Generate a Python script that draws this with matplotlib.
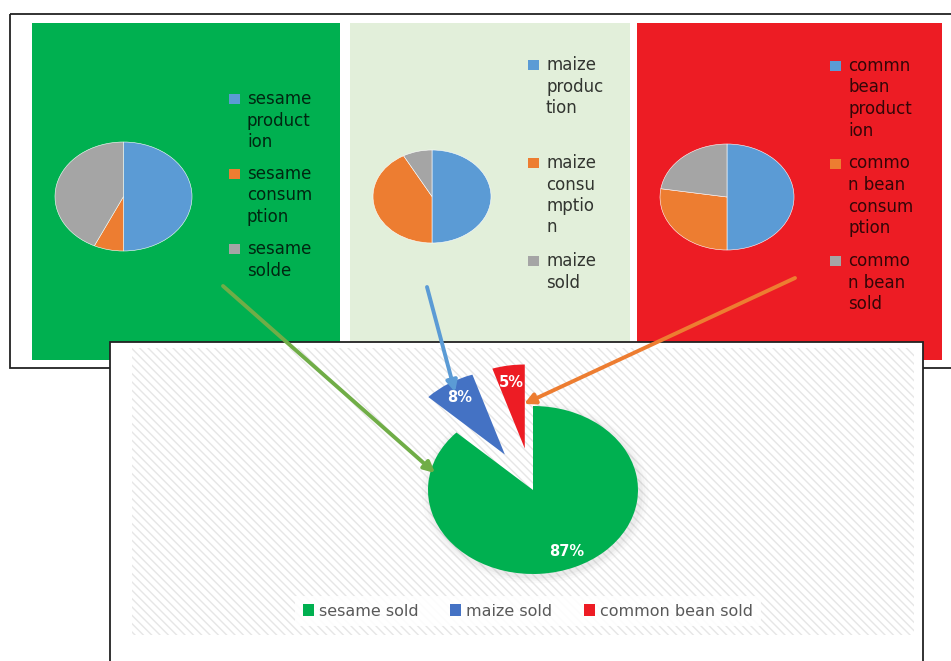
import numpy as np
import matplotlib

matplotlib.use("Agg")
from matplotlib import pyplot as plt
from matplotlib.patches import Rectangle, Wedge

# shares (%)
sesame_labels = ["sesame\nproduct\nion", "sesame\nconsum\nption", "sesame\nsolde"]
sesame_values = [50, 7, 43]
maize_labels = ["maize\nproduc\ntion", "maize\nconsu\nmptio\nn", "maize\nsold"]
maize_values = [50, 42, 8]
bean_labels = ["commn\nbean\nproduct\nion", "commo\nn bean\nconsum\nption", "commo\nn bean\nsold"]
bean_values = [50, 27.5, 22.5]
sold_labels = ["sesame sold", "maize sold", "common bean sold"]
sold_values = [87, 8, 5]

small_colors = ["#5b9bd5", "#ed7d31", "#a5a5a5"]
sold_colors = ["#00b050", "#4472c4", "#ed1c24"]

W, H = 951, 661
fig = plt.figure(figsize=(W / 100, H / 100), dpi=100)

# background axes in pixel coordinates (y down)
bg = fig.add_axes([0, 0, 1, 1])
bg.set_xlim(0, W)
bg.set_ylim(H, 0)
bg.axis("off")

# upper frame and the three coloured panels
bg.add_patch(Rectangle((10, 14), 960, 354, fill=False, edgecolor="#222222", lw=1.3, zorder=1))
bg.add_patch(Rectangle((32, 23), 308, 337, facecolor="#00b050", lw=0, zorder=2))
bg.add_patch(Rectangle((350, 23), 280, 337, facecolor="#e2efda", lw=0, zorder=2))
bg.add_patch(Rectangle((637, 23), 305, 337, facecolor="#ed1c24", lw=0, zorder=2))

# lower chart box with striped plot area
bg.add_patch(Rectangle((110, 342), 813, 340, facecolor="white", edgecolor="#222222", lw=1.3, zorder=3))
bg.add_patch(Rectangle((132, 348), 782, 287, facecolor="white", edgecolor="#e6e6e6",
                       hatch="\\\\\\\\", lw=0, zorder=4))


def panel_legend(labels, mx, y0, step):
    for i, lab in enumerate(labels):
        y = y0 + i * step
        bg.add_patch(Rectangle((mx, y - 5), 11, 10, facecolor=small_colors[i], lw=0, zorder=5))
        for j, line in enumerate(lab.split("\n")):
            bg.text(mx + 18, y + j * 21.5, line, fontsize=12, color="black", alpha=0.78,
                    va="center", ha="left", zorder=5)


panel_legend(sesame_labels, 229, 99, 75)
panel_legend(maize_labels, 528, 65, 98)
panel_legend(bean_labels, 830, 66, 97.5)


def pie_axes(cx, cy, rx, ry, lim=1.0):
    w, h = 2 * lim * rx, 2 * lim * ry
    ax = fig.add_axes([(cx - w / 2) / W, 1 - (cy + h / 2) / H, w / W, h / H])
    return ax


def small_pie(values, cx, cy, rx, ry):
    ax = pie_axes(cx, cy, rx, ry)
    ax.pie(values, colors=small_colors, startangle=90, counterclock=False,
           wedgeprops=dict(linewidth=0.4, edgecolor="white"))
    ax.set_xlim(-1, 1)
    ax.set_ylim(-1, 1)
    ax.set_aspect("auto")


small_pie(sesame_values, 123.5, 196.5, 68.5, 54.5)
small_pie(maize_values, 432, 196.5, 59, 46.5)
small_pie(bean_values, 727, 197, 67, 53)

# big exploded pie of the sold shares
lim = 1.7
bax = pie_axes(533, 490, 105, 84, lim)
theta1 = 90 - sold_values[0] / sum(sold_values) * 360
for r, a in [(1.08, 0.04), (1.05, 0.05), (1.025, 0.07)]:
    bax.add_patch(Wedge((0.02, -0.03), r, theta1, 90, facecolor="#888888", alpha=a, lw=0))
wedges, texts, autotexts = bax.pie(sold_values, colors=sold_colors, startangle=90, counterclock=False,
                                   explode=[0, 0.5, 0.5], autopct="%1.0f%%", pctdistance=0.8,
                                   wedgeprops=dict(linewidth=0),
                                   textprops=dict(color="white", fontsize=10.5, fontweight="bold"))
bax.set_xlim(-lim, lim)
bax.set_ylim(-lim, lim)
bax.set_aspect("auto")

fig.legend(wedges, sold_labels, loc="center", bbox_to_anchor=(528 / W, 1 - 611 / H), ncol=3,
           frameon=True, facecolor="white", edgecolor="none", fancybox=False, framealpha=0.9,
           fontsize=11.5, labelcolor="#595959", handlelength=0.7, handleheight=0.7,
           handletextpad=0.3, columnspacing=2.0, borderpad=0.5, borderaxespad=0)

# arrows linking the panels to the sold wedges
ov = fig.add_axes([0, 0, 1, 1], zorder=5)
ov.set_xlim(0, W)
ov.set_ylim(H, 0)
ov.axis("off")
for start, end, c in [((223, 286), (435, 473), "#70ad47"),
                      ((427, 287), (455, 392), "#5b9bd5"),
                      ((795, 278), (524, 404), "#ed7d31")]:
    ov.annotate("", xy=end, xytext=start,
                arrowprops=dict(arrowstyle="-|>", color=c, lw=2.8, mutation_scale=16,
                                shrinkA=0, shrinkB=0))

fig.savefig("out.png", dpi=100)
